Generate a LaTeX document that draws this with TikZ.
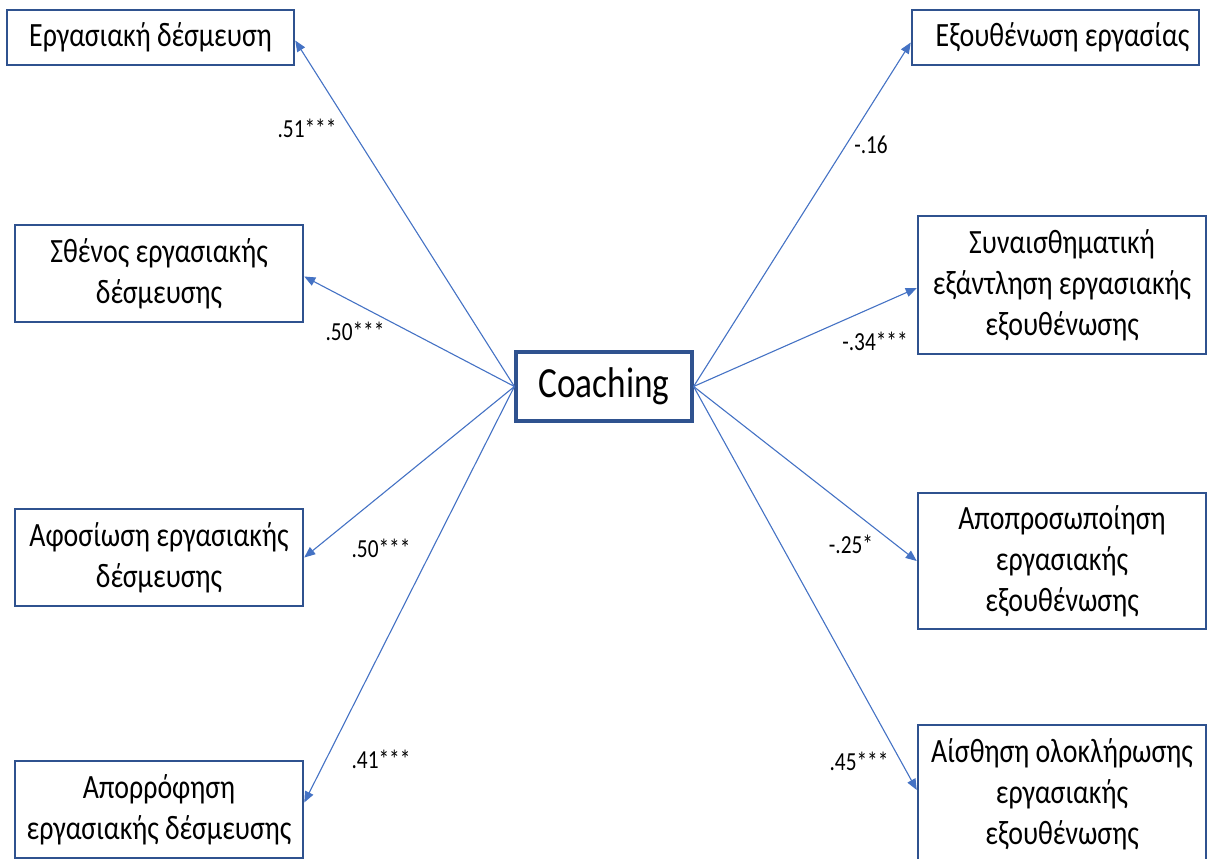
\documentclass[tikz,border=0pt]{standalone}
\usepackage{fontspec}
\setmainfont{Carlito}[FakeStretch=0.82]
\usetikzlibrary{arrows.meta}

\definecolor{boxblue}{HTML}{2F528F}
\definecolor{linkblue}{HTML}{4472C4}

\tikzset{
  varbox/.style={draw=boxblue, line width=2.5pt, rectangle, inner sep=0pt,
    align=center, font=\fontsize{34}{41}\selectfont},
  centrebox/.style={draw=boxblue, line width=3.2pt, rectangle, inner sep=0pt,
    font=\fontsize{43}{50}\selectfont},
  link/.style={draw=linkblue, line width=1.1pt,
    -{Triangle[length=11pt,width=9pt]}},
  coef/.style={inner sep=0pt, font=\fontsize{26}{30}\selectfont}
}

\begin{document}
\begin{tikzpicture}[x=1pt, y=-1pt]
  \useasboundingbox (0,0) rectangle (1215,859);
  \clip (0,0) rectangle (1215,859);

  % centre node
  \node[centrebox, minimum width=176pt, minimum height=69pt] (C) at (604,386.5) {Coaching};

  % work engagement (left column)
  \node[varbox, minimum width=287pt, minimum height=55pt] (L1) at (150.5,37.5) {Εργασιακή δέσμευση};
  \node[varbox, minimum width=288pt, minimum height=97pt] (L2) at (159,273.5) {Σθένος εργασιακής\\δέσμευσης};
  \node[varbox, minimum width=288pt, minimum height=97pt] (L3) at (159,557.5) {Αφοσίωση εργασιακής\\δέσμευσης};
  \node[varbox, minimum width=288pt, minimum height=97pt] (L4) at (159,809.5) {Απορρόφηση\\εργασιακής δέσμευσης};

  % burnout (right column)
  \node[varbox, minimum width=287pt, minimum height=55pt] (R1) at (1055.5,37.5) {\hspace*{14pt}Εξουθένωση εργασίας};
  \node[varbox, minimum width=288pt, minimum height=138pt] (R2) at (1062,285) {Συναισθηματική\\εξάντληση εργασιακής\\εξουθένωσης};
  \node[varbox, minimum width=288pt, minimum height=136pt] (R3) at (1062,561) {Αποπροσωποίηση\\εργασιακής\\εξουθένωσης};
  \node[varbox, minimum width=288pt, minimum height=138pt] (R4) at (1062,794) {Αίσθηση ολοκλήρωσης\\εργασιακής\\εξουθένωσης};

  % paths from the centre node
  \draw[link] (C.west) -- ([yshift=-3pt]L1.east);
  \draw[link] (C.west) -- ([yshift=-3pt]L2.east);
  \draw[link] (C.west) -- (L3.east);
  \draw[link] (C.west) -- ([yshift=7pt]L4.east);
  \draw[link] (C.east) -- ([yshift=-5pt]R1.west);
  \draw[link] (C.east) -- ([yshift=-3pt]R2.west);
  \draw[link] (C.east) -- (R3.west);
  \draw[link] (C.east) -- ([yshift=4pt]R4.west);

  % path coefficients
  \node[coef] (k1) at (307,128) {.51***};
  \node[coef] (k2) at (355,331) {.50***};
  \node[coef] (k3) at (381,548) {.50***};
  \node[coef] (k4) at (381,759) {.41***};
  \node[coef] (k5) at (871,145) {-.16};
  \node[coef] (k6) at (875,341) {-.34***};
  \node[coef] (k7) at (851,544) {-.25*};
  \node[coef] (k8) at (859,761) {.45***};
\end{tikzpicture}
\end{document}
